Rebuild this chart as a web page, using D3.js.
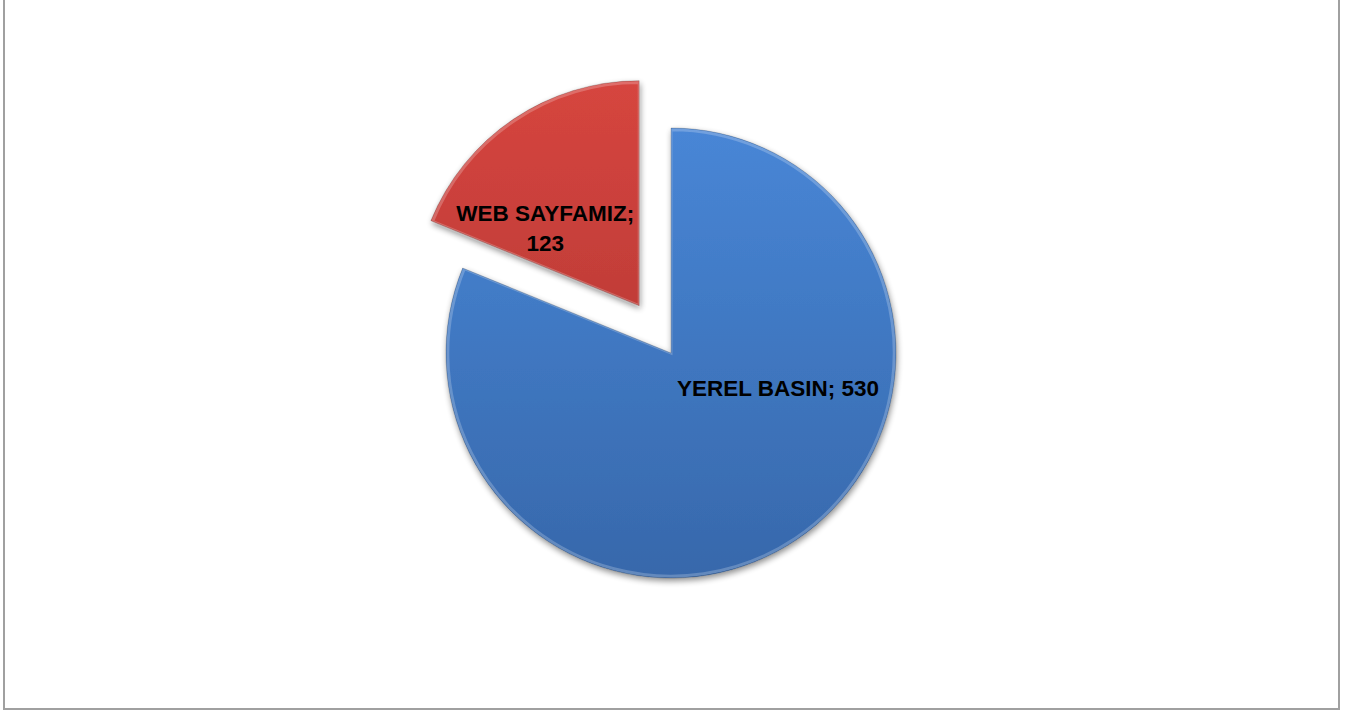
<!DOCTYPE html>
<html><head><meta charset="utf-8">
<script src="https://cdn.jsdelivr.net/npm/d3@7"></script>
<style>html,body{margin:0;padding:0;background:#fff;}svg{display:block;}</style>
</head><body>
<svg id="c" width="1345" height="713"></svg>
<script>
const categories = ["YEREL BASIN", "WEB SAYFAMIZ"];
const values = [530, 123];
const colorsTop = ["#4886d6", "#d6453f"];
const colorsBottom = ["#3768ab", "#ac3531"];

const svg = d3.select("#c");
// frame
svg.append("rect").attr("x", 4).attr("y", -4).attr("width", 1335).attr("height", 713)
  .attr("fill", "#fff").attr("stroke", "#a0a0a0").attr("stroke-width", 2);

const defs = svg.append("defs");
const cx = 671, cy = 353, R = 225, explode = 57;
categories.forEach((c, i) => {
  const g = defs.append("linearGradient").attr("id", "g" + i)
    .attr("gradientUnits", "userSpaceOnUse")
    .attr("x1", 0).attr("y1", -R).attr("x2", 0).attr("y2", R);
  g.append("stop").attr("offset", 0).attr("stop-color", colorsTop[i]);
  g.append("stop").attr("offset", 1).attr("stop-color", colorsBottom[i]);
});
const f = defs.append("filter").attr("id", "sh").attr("x", "-20%").attr("y", "-20%").attr("width", "140%").attr("height", "140%");
f.append("feGaussianBlur").attr("in", "SourceAlpha").attr("stdDeviation", 3).attr("result", "b");
f.append("feOffset").attr("in", "b").attr("dx", 1).attr("dy", 3).attr("result", "o");
f.append("feComponentTransfer").attr("in", "o").attr("result", "o2")
  .append("feFuncA").attr("type", "linear").attr("slope", 0.45);
const m = f.append("feMerge");
m.append("feMergeNode").attr("in", "o2");
m.append("feMergeNode").attr("in", "SourceGraphic");

const pie = d3.pie().sort(null).value(d => d);
const arcs = pie(values);
const arc = d3.arc().innerRadius(0).outerRadius(R);

const explodes = [0, explode];
const labelOffsets = [[107, 35], [-94, -78]];

arcs.forEach((a, i) => {
  const mid = (a.startAngle + a.endAngle) / 2;
  const ox = Math.sin(mid) * explodes[i], oy = -Math.cos(mid) * explodes[i];
  const g = svg.append("g").attr("transform", `translate(${cx + ox},${cy + oy})`);
  g.append("path").attr("d", arc(a)).attr("fill", `url(#g${i})`).attr("filter", "url(#sh)");
  g.append("path").attr("d", arc(a)).attr("fill", "none")
    .attr("stroke", "rgba(255,255,255,0.22)").attr("stroke-width", 3)
    .attr("transform", "scale(0.992)");
  g.append("path").attr("d", arc(a)).attr("fill", "none")
    .attr("stroke", "rgba(0,0,0,0.18)").attr("stroke-width", 1);
  const [lx, ly] = labelOffsets[i];
  const t = g.append("text").attr("x", lx).attr("y", ly)
    .attr("text-anchor", "middle").attr("font-family", "Liberation Sans, Arial, sans-serif")
    .attr("font-weight", "bold").attr("font-size", 22.5).attr("fill", "#000");
  if (i === 0) {
    t.attr("dy", "0.36em").text(`${categories[i]}; ${values[i]}`);
  } else {
    t.append("tspan").attr("x", lx).attr("y", ly - 15).attr("dy", "0.36em").text(`${categories[i]};`);
    t.append("tspan").attr("x", lx).attr("y", ly + 15).attr("dy", "0.36em").text(values[i]);
  }
});
</script>
</body></html>
